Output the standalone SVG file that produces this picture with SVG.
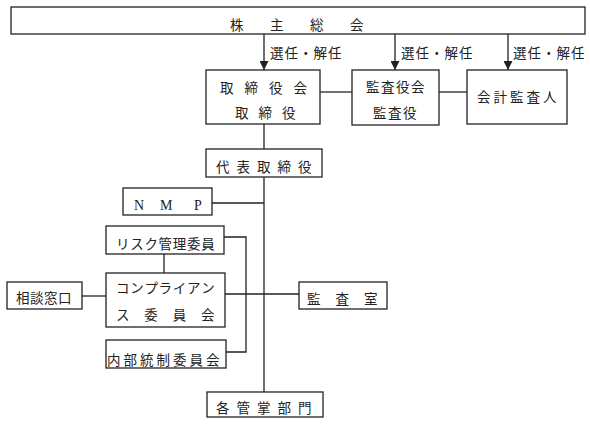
<svg xmlns="http://www.w3.org/2000/svg" width="590" height="425" viewBox="0 0 590 425">
<defs>
<style>
.box{fill:#fff;stroke:#222;stroke-width:1.3}
.ln{fill:none;stroke:#222;stroke-width:1.3}
text{font-family:"Noto Sans CJK JP","Noto Sans",sans-serif;font-size:13.5px;fill:#222}
.lat{font-family:"Liberation Serif",serif;font-size:14px}
</style>
<marker id="ah" viewBox="0 0 10 10" refX="10" refY="5" markerWidth="9" markerHeight="9" markerUnits="userSpaceOnUse" orient="auto">
<path d="M0,0 L10,5 L0,10 z" fill="#222"/>
</marker>
</defs>
<g id="connectors">
<line class="ln" x1="264" y1="34" x2="264" y2="70" marker-end="url(#ah)"/>
<line class="ln" x1="395" y1="34" x2="395" y2="70" marker-end="url(#ah)"/>
<line class="ln" x1="508" y1="34" x2="508" y2="70" marker-end="url(#ah)"/>
<line class="ln" x1="320" y1="92" x2="352" y2="92"/>
<line class="ln" x1="439" y1="92" x2="467" y2="92"/>
<line class="ln" x1="264" y1="124" x2="264" y2="149"/>
<line class="ln" x1="264" y1="177" x2="264" y2="392"/>
<line class="ln" x1="212" y1="203" x2="264" y2="203"/>
<polyline class="ln" points="224,237 246,237 246,352 226,352"/>
<line class="ln" x1="164" y1="254" x2="164" y2="273"/>
<line class="ln" x1="82" y1="296" x2="106" y2="296"/>
<line class="ln" x1="225" y1="294" x2="299" y2="294"/>
<text x="270 284.5 299 313.5 328" y="58">選任・解任</text>
<text x="401 415.5 430 444.5 459" y="58">選任・解任</text>
<text x="513 527.5 542 556.5 571" y="58">選任・解任</text>
</g>
<g id="shareholders">
<rect class="box" x="11" y="7" width="574" height="27"/>
<text x="230 270 310 350" y="30">株主総会</text>
</g>
<g id="board">
<rect class="box" x="206" y="70" width="114" height="54"/>
<text x="220 244.5 269 293.5" y="93">取締役会</text>
<text x="235 258.5 282" y="118">取締役</text>
</g>
<g id="auditors">
<rect class="box" x="352" y="70" width="87" height="55"/>
<text x="366 381 396 411" y="92">監査役会</text>
<text x="373 388 403" y="117.5">監査役</text>
</g>
<g id="accounting-auditor">
<rect class="box" x="467" y="70" width="100" height="54"/>
<text x="477 493.5 510 526.5 543" y="102">会計監査人</text>
</g>
<g id="representative">
<rect class="box" x="206" y="149" width="116" height="28"/>
<text x="216 236.5 257 277.5 298" y="172">代表取締役</text>
</g>
<g id="nmp">
<rect class="box" x="123" y="188" width="89" height="27"/>
<text class="lat" x="134 160 194" y="210">NMP</text>
</g>
<g id="risk">
<rect class="box" x="106" y="226" width="118" height="28"/>
<text x="116 130.2 144.4 158.6 172.8 187 201.2" y="248.5">リスク管理委員</text>
</g>
<g id="compliance">
<rect class="box" x="106" y="273" width="119" height="54"/>
<text x="116 130.2 144.4 158.6 172.8 187 201.2" y="293">コンプライアン</text>
<text x="116 144.3 172.7 201" y="319.5">ス委員会</text>
</g>
<g id="consultation">
<rect class="box" x="7" y="282" width="75" height="27"/>
<text x="16 30 44 58" y="303">相談窓口</text>
</g>
<g id="internal-control">
<rect class="box" x="106" y="340" width="120" height="28"/>
<text x="107 123.5 140 156.5 173 189.5 206" y="364.5">内部統制委員会</text>
</g>
<g id="audit-office">
<rect class="box" x="299" y="282" width="88" height="27"/>
<text x="307 335.5 364" y="304">監査室</text>
</g>
<g id="departments">
<rect class="box" x="207" y="392" width="116" height="25"/>
<text x="216 236.5 257 277.5 298" y="412.5">各管掌部門</text>
</g>
</svg>
